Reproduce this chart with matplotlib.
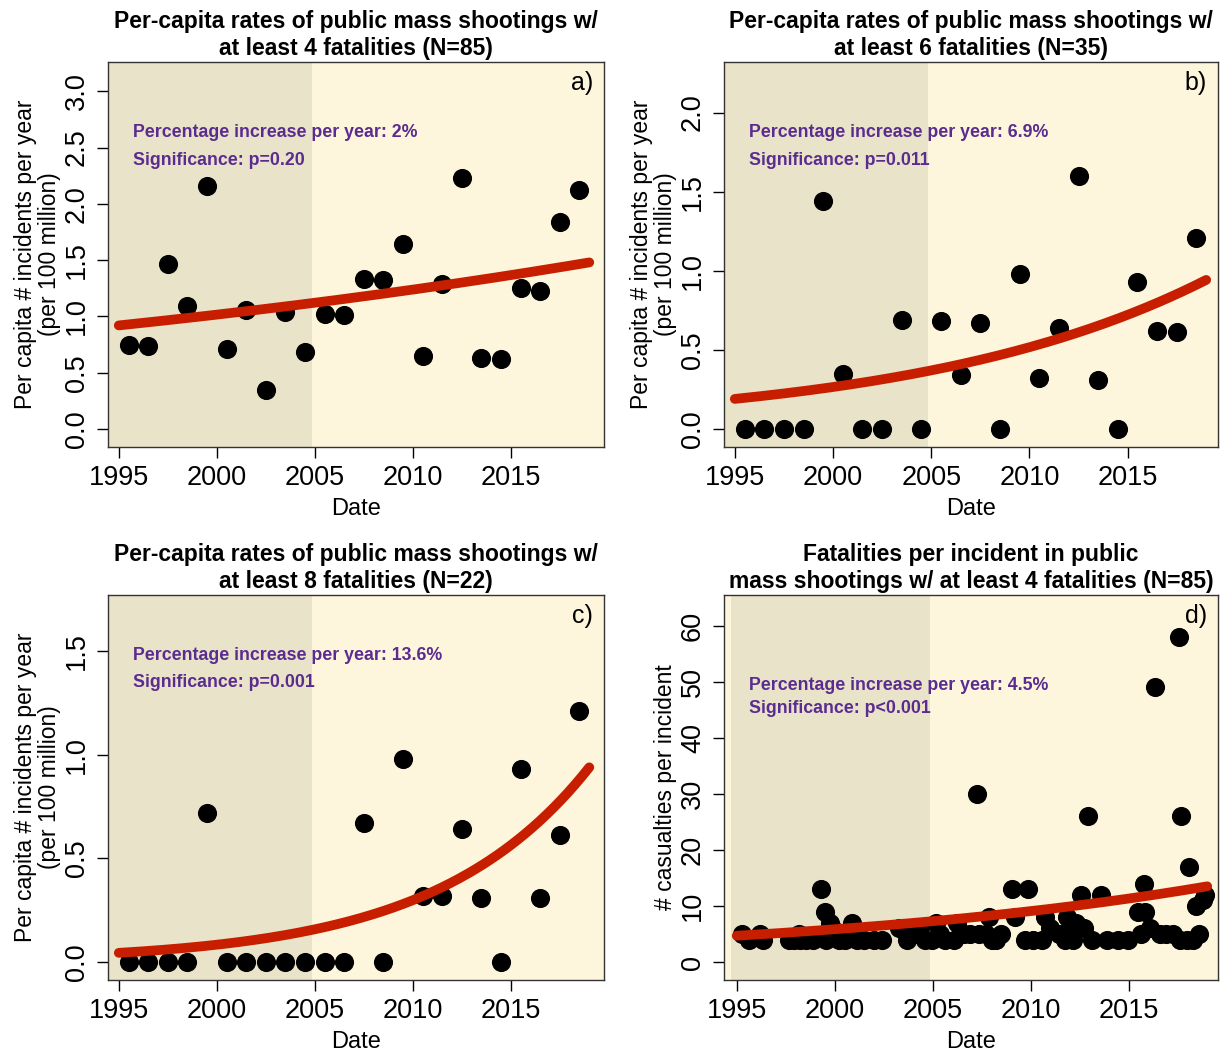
import numpy as np
import matplotlib
matplotlib.use("Agg")
import matplotlib.pyplot as plt

plt.rcParams['font.family'] = ['Liberation Sans Narrow', 'Liberation Sans', 'DejaVu Sans']

# yearly per-capita rates (per 100 million), points plotted at mid-year
years = [1995.5, 1996.5, 1997.5, 1998.5, 1999.5, 2000.5, 2001.5, 2002.5,
         2003.5, 2004.5, 2005.5, 2006.5, 2007.5, 2008.5, 2009.5, 2010.5,
         2011.5, 2012.5, 2013.5, 2014.5, 2015.5, 2016.5, 2017.5, 2018.5]
rate4 = [0.75, 0.74, 1.47, 1.09, 2.16, 0.71, 1.06, 0.35, 1.04, 0.68, 1.02, 1.01,
         1.33, 1.32, 1.64, 0.65, 1.29, 2.23, 0.63, 0.62, 1.25, 1.23, 1.84, 2.12]
rate6 = [0.0, 0.0, 0.0, 0.0, 1.44, 0.35, 0.0, 0.0, 0.69, 0.0, 0.68, 0.34,
         0.67, 0.0, 0.98, 0.32, 0.64, 1.60, 0.31, 0.0, 0.93, 0.62, 0.61, 1.21]
rate8 = [0.0, 0.0, 0.0, 0.0, 0.72, 0.0, 0.0, 0.0, 0.0, 0.0, 0.0, 0.0,
         0.67, 0.0, 0.98, 0.32, 0.32, 0.64, 0.31, 0.0, 0.93, 0.31, 0.61, 1.21]

# fatalities per incident (N=85)
inc_date = [1995.25, 1995.6, 1996.2, 1996.35,
            1997.65, 1997.9, 1998.2, 1998.25, 1998.55, 1998.9,
            1999.3, 1999.5, 1999.55, 1999.75, 1999.85, 1999.6,
            2000.2, 2000.5, 2000.9, 2001.0, 2001.15, 2001.5, 2002.0, 2002.4,
            2003.3, 2003.7, 2004.1, 2004.35, 2004.6, 2004.95,
            2005.15, 2005.35, 2005.6, 2006.1, 2006.25, 2006.6, 2006.9, 2007.25, 2007.35, 2007.7,
            2007.85, 2008.0, 2008.25, 2008.5, 2009.05, 2009.2, 2009.7, 2009.85, 2010.1, 2010.55,
            2010.75, 2011.0, 2011.45, 2011.75, 2011.85, 2012.0, 2012.15, 2012.3, 2012.55, 2012.7,
            2012.9, 2013.1, 2013.6, 2013.9, 2014.45, 2014.95, 2015.45, 2015.6, 2015.75, 2015.85,
            2016.1, 2016.35, 2016.6, 2016.9, 2017.25, 2017.55, 2017.6, 2017.65, 2017.95, 2018.05,
            2018.3, 2018.45, 2018.6, 2018.8, 2018.9]
inc_fatal = [5, 4, 5, 4,
             4, 4, 5, 4, 4, 4,
             13, 9, 4, 7, 6, 5,
             4, 4, 7, 5, 4, 4, 4, 4,
             6, 4, 5, 6, 4, 4,
             7, 5, 4, 4, 7, 5, 5, 30, 5, 5,
             8, 4, 4, 5, 13, 8, 4, 13, 4, 4,
             8, 6, 5, 4, 8, 6, 4, 7, 12, 6,
             26, 4, 12, 4, 4, 4, 9, 5, 14, 9,
             6, 49, 5, 5, 5, 58, 4, 26, 4, 17,
             4, 10, 5, 11, 12]

# fitted exponential trends: value at 1995 and yearly growth
fit_start = [0.92, 0.19, 0.044, 4.7]
fit_growth = [0.02, 0.069, 0.136, 0.045]

titles = ["Per-capita rates of public mass shootings w/\nat least 4 fatalities (N=85)",
          "Per-capita rates of public mass shootings w/\nat least 6 fatalities (N=35)",
          "Per-capita rates of public mass shootings w/\nat least 8 fatalities (N=22)",
          "Fatalities per incident in public\nmass shootings w/ at least 4 fatalities (N=85)"]
notes = [("Percentage increase per year: 2%", "Significance: p=0.20"),
         ("Percentage increase per year: 6.9%", "Significance: p=0.011"),
         ("Percentage increase per year: 13.6%", "Significance: p=0.001"),
         ("Percentage increase per year: 4.5%", "Significance: p<0.001")]
tags = ["a)", "b)", "c)", "d)"]

DARK = "#e9e3c9"
LIGHT = "#fdf5dc"
RED = "#c71e00"
PURPLE = "#5b2c8f"

fig = plt.figure(figsize=(12.24, 10.53), dpi=100)
W, H = 1224.0, 1053.0


def make_ax(l, t, r, b):
    return fig.add_axes([l / W, 1 - b / H, (r - l) / W, (b - t) / H])


axes = [make_ax(108, 62, 604, 447), make_ax(724, 62, 1218, 447),
        make_ax(108, 595, 604, 980), make_ax(724, 595, 1218, 980)]

xs = [years, years, years, inc_date]
ys = [rate4, rate6, rate8, inc_fatal]
ylims = [(-0.16, 3.26), (-0.114, 2.32), (-0.087, 1.77), (-3.2, 65.5)]
xlims = [(1994.45, 2019.75), (1994.45, 2019.6), (1994.45, 2019.75), (1994.35, 2019.55)]
yticks = [np.arange(0, 3.01, 0.5), np.arange(0, 2.01, 0.5),
          np.arange(0, 1.51, 0.5), np.arange(0, 61, 10)]
ylabels = ["Per capita # incidents per year\n(per 100 million)"] * 3 + ["# casualties per incident"]
note_y = [(0.816, 0.745), (0.816, 0.745), (0.843, 0.773), (0.764, 0.704)]

for i, ax in enumerate(axes):
    ax.set_facecolor(LIGHT)
    ax.set_xlim(*xlims[i])
    ax.set_ylim(*ylims[i])
    shade_start = 1994.7 if i == 3 else xlims[i][0]
    ax.axvspan(shade_start, 2004.85, color=DARK, lw=0, zorder=0)

    ax.scatter(xs[i], ys[i], s=190, color="black", zorder=2, linewidths=0)

    t = np.linspace(1995, 2019, 200)
    ax.plot(t, fit_start[i] * (1 + fit_growth[i]) ** (t - 1995), color=RED,
            lw=7, solid_capstyle="round", zorder=3)

    ax.set_xticks([1995, 2000, 2005, 2010, 2015])
    ax.set_yticks(yticks[i])
    if i == 3:
        ax.set_yticklabels(["%d" % v for v in yticks[i]])
    else:
        ax.set_yticklabels(["%.1f" % v for v in yticks[i]])
    ax.tick_params(axis="both", direction="out", length=8, width=1.0,
                   labelsize=19.5, pad=5)
    for lab in ax.get_yticklabels():
        lab.set_rotation(90)
        lab.set_va("center")
    for sp in ax.spines.values():
        sp.set_linewidth(1.0)
        sp.set_color("#333333")

    ax.set_xlabel("Date", fontsize=17, labelpad=5)
    ax.set_ylabel(ylabels[i], fontsize=16.5, labelpad=2, linespacing=1.08)
    ax.set_title(titles[i], fontsize=16.5, fontweight="bold", pad=5, linespacing=1.25)

    ax.text(0.05, note_y[i][0], notes[i][0], transform=ax.transAxes, color=PURPLE,
            fontsize=12.8, fontweight="bold", va="center", ha="left")
    ax.text(0.05, note_y[i][1], notes[i][1], transform=ax.transAxes, color=PURPLE,
            fontsize=12.8, fontweight="bold", va="center", ha="left")
    ax.text(0.978, 0.945, tags[i], transform=ax.transAxes, fontsize=18,
            va="center", ha="right")

fig.savefig("out.png", dpi=100)
